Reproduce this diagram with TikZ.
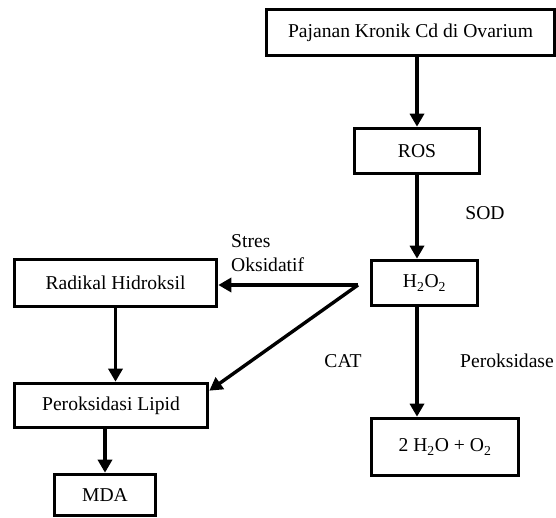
\documentclass[tikz,border=0pt]{standalone}
\usepackage{fontspec}
\setmainfont{Liberation Serif}
\usetikzlibrary{arrows.meta}

\begin{document}
\begin{tikzpicture}[x=1pt, y=-1pt, font=\fontsize{19.6}{24}\selectfont,
  box/.style={draw, line width=3.6pt, inner sep=0pt},
  arr/.style={line width=3.4pt, -{Triangle[length=13pt,width=14pt]}}]
\useasboundingbox (0,0) rectangle (556,518);

\node [box, minimum width=288pt, minimum height=46pt] (Cd) at (410.5, 32.5) {Pajanan Kronik Cd di Ovarium};
\node [box, minimum width=125pt, minimum height=45pt] (ROS) at (417, 151) {ROS};
\node [box, minimum width=106pt, minimum height=45pt] (HOO) at (424.5, 283) {H\textsubscript{2}O\textsubscript{2}};
\node [box, minimum width=147pt, minimum height=57pt] (Water) at (445, 447) {2 H\textsubscript{2}O + O\textsubscript{2}};

\node [box, minimum width=202pt, minimum height=47pt] (Rad) at (115.5, 283) {Radikal Hidroksil};
\node [box, minimum width=193pt, minimum height=44pt] (Lip) at (111, 405.5) {Peroksidasi Lipid};
\node [box, minimum width=101pt, minimum height=41pt] (MDA) at (105, 495) {MDA};

\node (SOD) at (485, 213) {SOD};
\node [anchor=west, align=left, inner sep=0pt] (Stres) at (231, 253) {Stres\\Oksidatif};
\node (CAT) at (343, 361) {CAT};
\node (Prx) at (507, 361) {Peroksidase};

\coordinate (split) at (358, 285);

\draw [arr] (Cd.south -| ROS) -- (ROS.north);
\draw [arr] (ROS.south) -- (HOO.north -| ROS);
\draw [arr] (HOO.south -| ROS) -- (Water.north -| ROS);

\draw [arr] (split) -- (Rad.east |- split);
\draw [arr] (split) -- ([yshift=-9pt]Lip.north east);

\draw [arr] (Rad.south) -- (Lip.north -| Rad.south);
\draw [arr] (Lip.south -| MDA.north) -- (MDA.north);

\end{tikzpicture}
\end{document}
